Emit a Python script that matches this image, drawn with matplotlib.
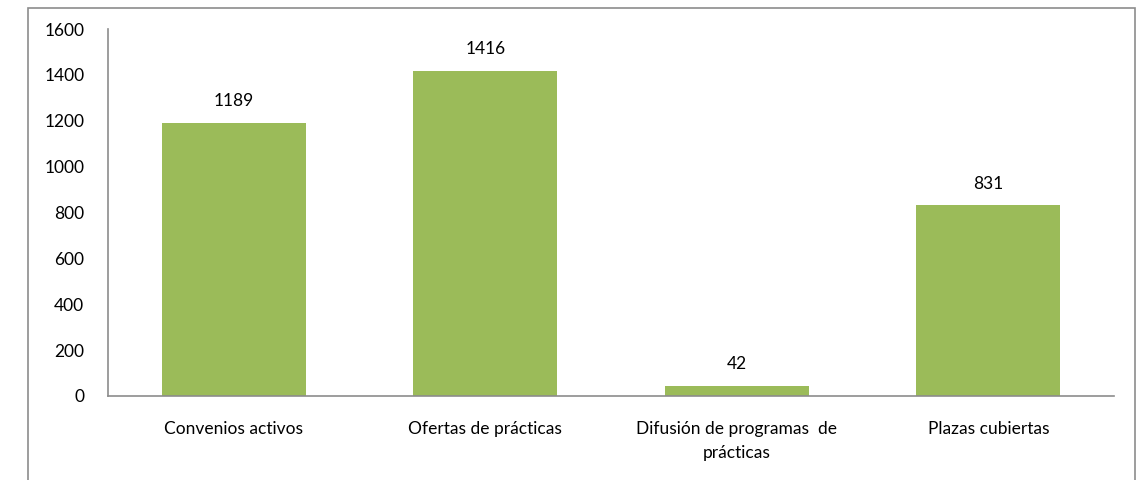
import matplotlib
matplotlib.use('Agg')
import matplotlib.pyplot as plt
from matplotlib.patches import Rectangle

categories = ['Convenios activos', 'Ofertas de prácticas',
              'Difusión de programas  de\nprácticas', 'Plazas cubiertas']
values = [1189, 1416, 42, 831]
yticks = [0, 200, 400, 600, 800, 1000, 1200, 1400, 1600]

plt.rcParams['font.family'] = ['Lato', 'DejaVu Sans']

W, H = 1146, 480
fig = plt.figure(figsize=(W / 100, H / 100), dpi=100)
ax = fig.add_axes([108 / W, 1 - 396 / H, (1114 - 108) / W, (396 - 29) / H])

x = range(len(categories))
bars = ax.bar(x, values, width=0.573, color='#9BBB59')
ax.bar_label(bars, labels=[str(v) for v in values], padding=10, fontsize=12.5)

ax.set_xlim(-0.5, len(categories) - 0.5)
ax.set_ylim(0, 1600)
ax.set_yticks(yticks)
ax.set_xticks(list(x))
ax.set_xticklabels(categories, fontsize=12.5, linespacing=1.6)
ax.tick_params(axis='y', length=0, pad=17, labelsize=12.5)
ax.tick_params(axis='x', length=0, pad=18)

for s in ['top', 'right']:
    ax.spines[s].set_visible(False)
for s in ['left', 'bottom']:
    ax.spines[s].set_color('#8c8c8c')
    ax.spines[s].set_linewidth(1.2)

# chart border
fig.patches.append(Rectangle((28 / W, -0.05), (1135 - 28) / W, 1.05 - 8 / H,
                             transform=fig.transFigure, fill=False,
                             edgecolor='#8c8c8c', linewidth=1.2))

fig.savefig('out.png', dpi=100)
